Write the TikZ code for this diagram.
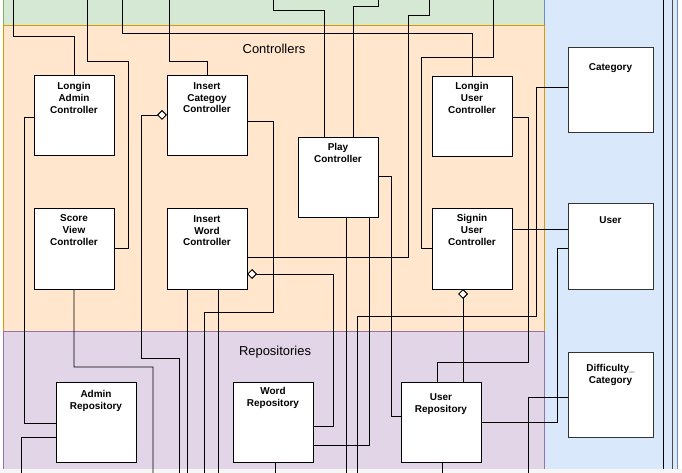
\documentclass[tikz,border=0pt]{standalone}
\usepackage{fontspec}
\setmainfont{Liberation Sans}
\usetikzlibrary{arrows.meta,positioning}

\definecolor{laneGreen}{HTML}{D5E8D4}
\definecolor{laneGreenLine}{HTML}{82B366}
\definecolor{laneOrange}{HTML}{FFE6CC}
\definecolor{laneOrangeLine}{HTML}{D79B00}
\definecolor{lanePurple}{HTML}{E1D5E7}
\definecolor{lanePurpleLine}{HTML}{9673A6}
\definecolor{laneBlue}{HTML}{DAE8FC}
\definecolor{laneBlueLine}{HTML}{6C8EBF}

\tikzset{
  classbox/.style={draw=black, fill=white, line width=1bp, minimum width=80bp,
    minimum height=80bp, anchor=north west, inner sep=0pt, outer sep=0pt},
  entitybox/.style={classbox, draw=black!80, minimum width=85bp, minimum height=85bp},
  boxtext/.style={align=center, inner sep=0pt, font=\fontsize{10}{12}\selectfont\bfseries},
  lanetitle/.style={inner sep=0pt, font=\fontsize{13}{15}\selectfont},
  wire/.style={line width=0.95bp, draw=black},
  agg/.style={wire, {Diamond[fill=white, length=10bp, width=10bp]}-},
}

\begin{document}
\begin{tikzpicture}[x=1bp, y=-1bp]
                            \useasboundingbox (0,0) rectangle (682,473);
                            \clip (0,0) rectangle (682,473);
                            {\fontsize{10}{12}\selectfont

                            % Drawing lanes
                            \fill [white] (0,0) rectangle (682,473);%
                            \draw [fill=laneGreen, draw=laneGreenLine] (3,-2) rectangle (544,25);%
                            \draw [fill=laneBlue, draw=laneBlueLine] (544,-2) rectangle (677,480);%
                            \draw [fill=laneOrange, draw=laneOrangeLine] (3,25) rectangle (544,331);%
                            \draw [fill=lanePurple, draw=lanePurpleLine] (3,331) rectangle (544,480);%
                            \draw [line width=0.9bp] (663,-2) -- (663,480);%
                            \draw [line width=0.9bp, black!70] (672,-2) -- (672,480);%
                            \fill [gray!7] (0,469) rectangle (682,480);%

                            % Marking lane titles
                            \node [lanetitle] (ctrlTitle) at (274,49) {Controllers};%
                            \node [lanetitle] (repoTitle) at (275,352) {Repositories};%

                            % Drawing controller boxes
                            \node [classbox] (lac) at (34,76) {};%
                            \node [classbox] (icc) at (167,76) {};%
                            \node [classbox] (pc) at (298,138) {};%
                            \node [classbox] (luc) at (432,77) {};%
                            \node [classbox] (svc) at (34,209) {};%
                            \node [classbox] (iwc) at (167,209) {};%
                            \node [classbox] (suc) at (432,209) {};%

                            % Drawing repository boxes
                            \node [classbox] (ar) at (56,382) {};%
                            \node [classbox] (wr) at (233,382) {};%
                            \node [classbox] (ur) at (401,382) {};%

                            % Drawing entity boxes
                            \node [entitybox] (cat) at (568,48) {};%
                            \node [entitybox] (usr) at (568,204) {};%
                            \node [entitybox] (dc) at (568,352) {};%

                            % Marking box texts
                            \node [boxtext, below=6bp of lac.north] (lacText) {Longin\\Admin\\Controller};%
                            \node [boxtext, below=6bp of icc.north] (iccText) {Insert\\Categoy\\Controller};%
                            \node [boxtext, below=5.5bp of pc.north] (pcText) {Play\\Controller};%
                            \node [boxtext, below=5bp of luc.north] (lucText) {Longin\\User\\Controller};%
                            \node [boxtext, below=5bp of svc.north] (svcText) {Score\\View\\Controller};%
                            \node [boxtext, below=6bp of iwc.north] (iwcText) {Insert\\Word\\Controller};%
                            \node [boxtext, below=5bp of suc.north] (sucText) {Signin\\User\\Controller};%
                            \node [boxtext, below=8bp of ar.north] (arText) {Admin\\Repository};%
                            \node [boxtext, below=5bp of wr.north] (wrText) {Word\\Repository};%
                            \node [boxtext, below=11.5bp of ur.north] (urText) {User\\Repository};%
                            \node [boxtext, below=15bp of cat.north] (catText) {Category};%
                            \node [boxtext, below=12.5bp of usr.north] (usrText) {User};%
                            \node [boxtext, below=12.5bp of dc.north] (dcText) {Difficulty\_\\Category};%

                            % Marking free ends
                            \coordinate (lacTop) at (13,-2);%
                            \coordinate (svcTop) at (87,-2);%
                            \coordinate (lucTop) at (122,-2);%
                            \coordinate (iccTop) at (169,-2);%
                            \coordinate (pcTopA) at (273,-2);%
                            \coordinate (pcTopB) at (378,-2);%
                            \coordinate (iwcTop) at (429,-2);%
                            \coordinate (sucTop) at (493,-2);%
                            \coordinate (arBot) at (21,480);%
                            \coordinate (svcBot) at (153,480);%
                            \coordinate (iccBot) at (179,480);%
                            \coordinate (iwcBotA) at (187,480);%
                            \coordinate (iccBotB) at (204,480);%
                            \coordinate (iwcBotB) at (218,480);%
                            \coordinate (wrBot) at (275,480);%
                            \coordinate (pcBot) at (346,480);%
                            \coordinate (catBot) at (357,480);%
                            \coordinate (urBot) at (442,480);%
                            \coordinate (dcBot) at (528,480);%

                            % Drawing connectors from the top
                            \draw [wire] (lacTop) -- (13,36) -| (lac.north);%
                            \draw [wire] (svcTop) -- (87,61) -- (128,61) -- (128,248) -- (svc.east |- 0,248);%
                            \draw [wire] (lucTop) -- (122,33) -| (luc.north);%
                            \draw [wire] (iccTop) -- (169,61) -| (icc.north);%
                            \draw [wire] (pcTopA) -- (273,10) -- (324,10) -- (pc.north -| 324,0);%
                            \draw [wire] (pcTopB) -- (378,6) -- (353,6) -- (pc.north -| 353,0);%
                            \draw [wire] (iwcTop) -- (429,15) -- (408,15) -- (408,257) -- (iwc.east |- 0,257);%
                            \draw [wire] (sucTop) -- (493,57) -- (421,57) -- (421,248) -- (suc.west |- 0,248);%

                            % Drawing connectors of the controllers
                            \draw [wire] (lac.west |- 0,117) -- (24,117) -- (24,423) -- (ar.west |- 0,423);%
                            \draw [agg] (icc.west |- 0,115) -- (141,115) -- (141,358) -- (179,358) -- (iccBot);%
                            \draw [wire] (icc.east |- 0,121) -- (273,121) -- (273,312) -- (204,312) -- (iccBotB);%
                            \draw [wire] (svc.south) -- (74,367) -- (153,367) -- (svcBot);%
                            \draw [wire] (iwc.south -| 187,0) -- (iwcBotA);%
                            \draw [wire] (iwc.south -| 218,0) -- (iwcBotB);%
                            \draw [agg] (iwc.east |- 0,274) -- (333,274) -- (333,426) -- (wr.east |- 0,426);%
                            \draw [wire] (pc.east |- 0,176) -- (391,176) -- (391,416) -- (ur.west |- 0,416);%
                            \draw [wire] (pc.south -| 346,0) -- (pcBot);%
                            \draw [wire] (pc.south -| 369,0) -- (369,445) -- (wr.east |- 0,445);%
                            \draw [wire] (luc.east |- 0,117) -- (528,117) -- (528,362) -- (437,362) -- (ur.north -| 437,0);%
                            \draw [wire] (suc.east |- 0,229) -- (usr.west |- 0,229);%
                            \draw [agg] (suc.south -| 463,0) -- (ur.north -| 463,0);%

                            % Drawing connectors of the entities
                            \draw [wire] (cat.west |- 0,87) -- (536,87) -- (536,316) -- (357,316) -- (catBot);%
                            \draw [wire] (usr.west |- 0,248) -- (557,248) -- (557,422) -- (ur.east |- 0,422);%
                            \draw [wire] (dc.west |- 0,397) -- (528,397) -- (dcBot);%

                            % Drawing connectors of the repositories
                            \draw [wire] (ur.south -| 442,0) -- (urBot);%
                            \draw [wire] (wr.south -| 275,0) -- (wrBot);%
                            \draw [wire] (ar.west |- 0,437) -- (21,437) -- (arBot);%
                            }
                        \end{tikzpicture}
\end{document}
